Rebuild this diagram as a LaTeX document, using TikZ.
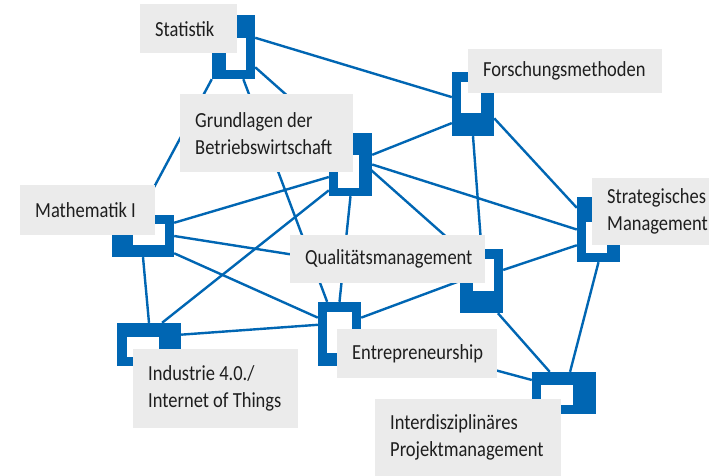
\documentclass[tikz,border=0pt]{standalone}
\usepackage{fontspec}
\setmainfont{Carlito}[FakeStretch=0.86]
\definecolor{mblue}{RGB}{0,102,179}
\definecolor{boxgray}{RGB}{235,235,235}
\definecolor{txtgray}{RGB}{30,30,30}
\pgfdeclarelayer{background}
\pgfsetlayers{background,main}
\begin{document}
\begin{tikzpicture}
[x=1pt,y=-1pt,
 marker/.style={rectangle,fill=mblue,draw=none,inner sep=0pt},
 link/.style={draw=mblue,line width=2.4pt},
 labelbox/.style=
   {rectangle,fill=boxgray,anchor=north west,inner xsep=15pt,inner ysep=0pt,
    align=flush left,text=txtgray,font=\fontsize{21.5pt}{27pt}\selectfont}]
\useasboundingbox (0,0) rectangle (709,476);

% markers
\node [marker,minimum width=43pt,minimum height=64pt] (stat) at (233.5,47) {};
\node [marker,minimum width=43pt,minimum height=63pt] (grund) at (350.5,164.5) {};
\node [marker,minimum width=42pt,minimum height=64pt] (forsch) at (473,104) {};
\node [marker,minimum width=62pt,minimum height=42pt] (mathe) at (143,236) {};
\node [marker,minimum width=43pt,minimum height=65pt] (strat) at (598.5,229.5) {};
\node [marker,minimum width=43pt,minimum height=64pt] (qual) at (481.5,281) {};
\node [marker,minimum width=43pt,minimum height=64pt] (entre) at (339.5,334) {};
\node [marker,minimum width=64pt,minimum height=43pt] (indus) at (149,344.5) {};
\node [marker,minimum width=64pt,minimum height=42pt] (inter) at (564,393) {};

\fill [white] (226,38) rectangle (246,70);
\fill [white] (338,155) rectangle (359,188);
\fill [white] (461,82) rectangle (481,113);
\fill [white] (133,224) rectangle (165,245);
\fill [white] (586,222) rectangle (607,253);
\fill [white] (473,259) rectangle (494,291);
\fill [white] (327,312) rectangle (352,353);
\fill [white] (127,337) rectangle (159,357);
\fill [white] (541,385) rectangle (573,405);

% links
\begin{pgfonlayer}{background}
\fill [white] (0,0) rectangle (709,476);
\draw [link] (stat.23) -- (forsch.162);
\draw [link] (stat.south west) -- (mathe.100);
\draw [link] (stat.-43) -- (qual.north west);
\draw [link] (stat.-73) -- (entre.111);
\draw [link] (forsch.222) -- (grund.24);
\draw [link] (forsch.south) -- (qual.north);
\draw [link] (forsch.-34) -- (strat.135);
\draw [link] (grund.east) -- (strat.west);
\draw [link] (grund.south) -- (entre.north);
\draw [link] (mathe.23) -- (grund.210);
\draw [link] (indus.59) -- (grund.230);
\draw [link] (mathe.east) -- (qual.west);
\draw [link] (mathe.-29) -- (entre.143);
\draw [link] (mathe.south) -- (indus.north);
\draw [link] (indus.17) -- (entre.157);
\draw [link] (entre.37) -- (qual.west);
\draw [link] (entre.east) -- (inter.158);
\draw [link] (qual.27) -- (strat.216);
\draw [link] (qual.-63) -- (inter.124);
\draw [link] (strat.south) -- (inter.74);
\end{pgfonlayer}

% labels
\node [labelbox,text width=67pt,minimum height=49pt] (statlbl) at (140,4) {Statistik};
\node [labelbox,text width=143pt,minimum height=78pt] (grundlbl) at (180,94)
  {Grundlagen~der\\Betriebswirtschaft};
\node [labelbox,text width=164pt,minimum height=44pt] (forschlbl) at (468,49)
  {Forschungsmethoden};
\node [labelbox,text width=105pt,minimum height=50pt] (mathelbl) at (20,185) {Mathematik~I};
\node [labelbox,text width=87pt,minimum height=67pt] (stratlbl) at (592,178)
  {Strategisches\\Management};
\node [labelbox,text width=165pt,minimum height=48pt] (quallbl) at (290,235)
  {Qualitätsmanagement};
\node [labelbox,text width=130pt,minimum height=49pt] (entrelbl) at (337,329)
  {Entrepreneurship};
\node [labelbox,text width=135pt,minimum height=79pt] (induslbl) at (133,349)
  {Industrie~4.0./\\Internet~of~Things};
\node [labelbox,text width=156pt,minimum height=77pt] (interlbl) at (375,399)
  {Interdisziplinäres\\Projektmanagement};
\end{tikzpicture}
\end{document}
